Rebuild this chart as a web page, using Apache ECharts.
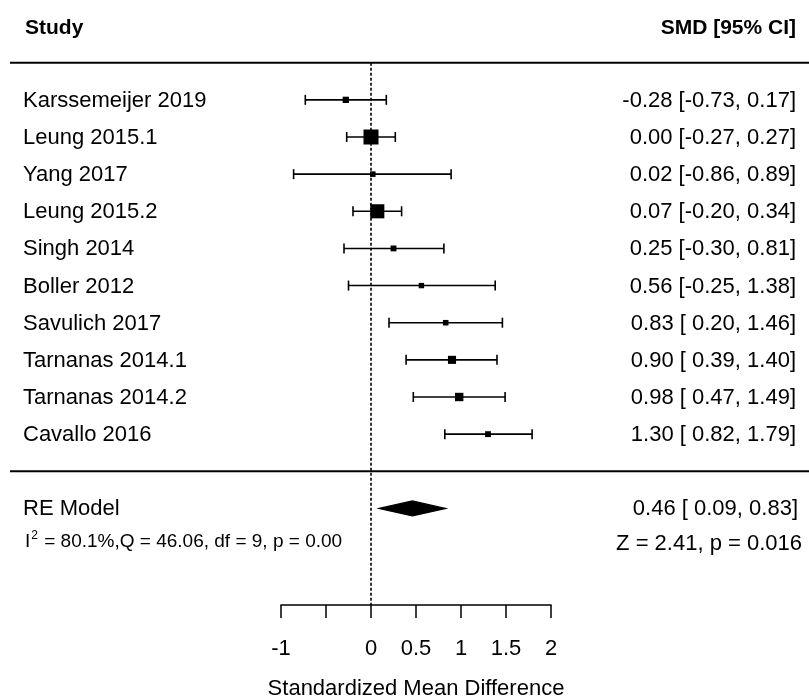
<!DOCTYPE html>
<html>
<head>
<meta charset="utf-8">
<script src="https://cdn.jsdelivr.net/npm/echarts@6/dist/echarts.min.js"></script>
<style>html,body{margin:0;padding:0;background:#fff}#c{width:809px;height:700px}</style>
</head>
<body>
<div id="c"></div>
<script>
// ---- data ----
const studies = ['Karssemeijer 2019', 'Leung 2015.1', 'Yang 2017', 'Leung 2015.2', 'Singh 2014',
  'Boller 2012', 'Savulich 2017', 'Tarnanas 2014.1', 'Tarnanas 2014.2', 'Cavallo 2016'];
const smd    = [-0.28, 0.00, 0.02, 0.07, 0.25, 0.56, 0.83, 0.90, 0.98, 1.30];
const ciLow  = [-0.73, -0.27, -0.86, -0.20, -0.30, -0.25, 0.20, 0.39, 0.47, 0.82];
const ciHigh = [0.17, 0.27, 0.89, 0.34, 0.81, 1.38, 1.46, 1.40, 1.49, 1.79];
// relative weights (% of the largest study)
const relWeight = [42, 100, 37, 94, 39, 36, 37, 54, 56, 39];
const reModel = { label: 'RE Model', est: 0.46, low: 0.09, high: 0.83 };
const hetero = { I2: '80.1%', Q: '46.06', df: '9', p: '0.00' };
const zTest = { z: '2.41', p: '0.016' };
const xTicks = [-1, -0.5, 0, 0.5, 1, 1.5, 2];
const hiddenTickLabels = [-0.5];
const headerLeft = 'Study';
const headerRight = 'SMD [95% CI]';
const axisTitle = 'Standardized Mean Difference';

// ---- layout / style ----
const FONT = 'Liberation Sans, Arial, Helvetica, sans-serif';
const FS = 22;
const LEFT_TEXT_X = 23;
const RIGHT_TEXT_X = 796;
const MAX_BOX = 15;
const ROW_HEADER = -1, ROW_RULE_TOP = 0, ROW_RULE_BOTTOM = 11, ROW_RE = 12, ROW_HET = 12.92;
const Y_MIN = -1.5, Y_MAX = 14.6;

function f2(v){ return v.toFixed(2); }
function pad5(s){ return s.length < 5 ? ' '.repeat(5 - s.length) + s : s; }
function ciString(e, l, h){ return f2(e) + ' [' + pad5(f2(l)) + ', ' + f2(h) + ']'; }

const chart = echarts.init(document.getElementById('c'), null, {renderer: 'canvas'});

// text items: [dummyX, row, text, side, bold, kind]
const textItems = [];
textItems.push([0, ROW_HEADER, headerLeft, 'left', true]);
textItems.push([0, ROW_HEADER, headerRight, 'right', true]);
studies.forEach((s, i) => {
  textItems.push([0, i + 1, s, 'left', false]);
  textItems.push([0, i + 1, ciString(smd[i], ciLow[i], ciHigh[i]), 'right', false]);
});
textItems.push([0, ROW_RE, reModel.label, 'left', false]);
textItems.push([0, ROW_RE, ciString(reModel.est, reModel.low, reModel.high), 'right', false, 'reRight']);
textItems.push([0, ROW_HET, 'het', 'left', false, 'het']);
textItems.push([0, ROW_HET, 'Z = ' + zTest.z + ', p = ' + zTest.p, 'right', false, 'z']);

function renderText(params, api) {
  const it = textItems[params.dataIndex];
  const y = api.coord([0, it[1]])[1];
  if (it[5] === 'het') {
    return {
      type: 'text',
      style: {
        x: LEFT_TEXT_X + 2, y: y - 2,
        text: '{n|I}{s|2}{n| = ' + hetero.I2 + ',Q = ' + hetero.Q + ', df = ' + hetero.df + ', p = ' + hetero.p + '}',
        rich: {
          n: {fontSize: 19, fontFamily: FONT, fill: '#000', verticalAlign: 'bottom'},
          s: {fontSize: 12, fontFamily: FONT, fill: '#000', verticalAlign: 'top', padding: [0, 1, 10, 1]}
        },
        align: 'left', verticalAlign: 'middle'
      }
    };
  }
  let x = it[3] === 'left' ? LEFT_TEXT_X : RIGHT_TEXT_X;
  let dy = 1;
  if (it[5] === 'reRight') x = RIGHT_TEXT_X + 2;
  if (it[5] === 'z') x = RIGHT_TEXT_X + 6;
  if (it[4]) { dy = 3; if (it[3] === 'left') x = LEFT_TEXT_X + 2; }
  return {
    type: 'text',
    style: {
      x: x, y: y + dy,
      text: it[2],
      fill: '#000',
      fontSize: it[4] ? 21 : FS,
      fontWeight: it[4] ? 'bold' : 'normal',
      fontFamily: FONT,
      align: it[3], verticalAlign: 'middle'
    }
  };
}

function renderStudy(params, api) {
  const row = api.value(3);
  const c = api.coord([api.value(0), row]);
  const lo = api.coord([api.value(1), row]);
  const hi = api.coord([api.value(2), row]);
  const sz = MAX_BOX * api.value(4) / 100;
  const ls = {stroke: '#000', lineWidth: 1.6};
  return {
    type: 'group',
    children: [
      {type: 'line', shape: {x1: lo[0], y1: c[1], x2: hi[0], y2: c[1]}, style: ls},
      {type: 'line', shape: {x1: lo[0], y1: c[1] - 5, x2: lo[0], y2: c[1] + 5}, style: ls},
      {type: 'line', shape: {x1: hi[0], y1: c[1] - 5, x2: hi[0], y2: c[1] + 5}, style: ls},
      {type: 'rect', shape: {x: c[0] - sz / 2, y: c[1] - sz / 2, width: sz, height: sz}, style: {fill: '#000'}}
    ]
  };
}

function renderDiamond(params, api) {
  const row = api.value(3);
  const c = api.coord([api.value(0), row]);
  const lo = api.coord([api.value(1), row]);
  const hi = api.coord([api.value(2), row]);
  const h = 7.5;
  return {
    type: 'polygon',
    shape: {points: [[lo[0], c[1]], [c[0], c[1] - h], [hi[0], c[1]], [c[0], c[1] + h]]},
    style: {fill: '#000', stroke: '#000', lineWidth: 1.2}
  };
}

function renderRule(params, api) {
  const y = api.coord([0, api.value(1)])[1];
  return {
    type: 'line',
    shape: {x1: 10, y1: y, x2: 809, y2: y},
    style: {stroke: '#000', lineWidth: 2}
  };
}

const option = {
  animation: false,
  backgroundColor: '#fff',
  grid: {left: 281, right: 258, top: 7, bottom: 95, containLabel: false, outerBoundsMode: 'none'},
  xAxis: {
    type: 'value', min: xTicks[0], max: xTicks[xTicks.length - 1], interval: 0.5,
    axisLine: {show: true, onZero: false, lineStyle: {color: '#000', width: 1.5}},
    axisTick: {show: true, length: 13, lineStyle: {color: '#000', width: 1.5}},
    axisLabel: {
      show: true, margin: 33, color: '#000', fontSize: FS, fontFamily: FONT,
      formatter: v => hiddenTickLabels.indexOf(v) >= 0 ? '' : String(v)
    },
    splitLine: {show: false},
    name: axisTitle, nameLocation: 'middle', nameGap: 73,
    nameTextStyle: {color: '#000', fontSize: FS, fontFamily: FONT}
  },
  yAxis: {type: 'value', inverse: true, min: Y_MIN, max: Y_MAX, show: false},
  series: [
    {
      type: 'line', data: [[0, ROW_RULE_TOP], [0, Y_MAX]], symbol: 'none', silent: true,
      lineStyle: {color: '#000', width: 1.6, type: [3, 2]}, z: 1
    },
    {
      type: 'custom', renderItem: renderRule, silent: true, z: 2,
      data: [[0, ROW_RULE_TOP], [0, ROW_RULE_BOTTOM]]
    },
    {
      type: 'custom', renderItem: renderStudy, z: 3,
      data: studies.map((s, i) => [smd[i], ciLow[i], ciHigh[i], i + 1, relWeight[i]]),
      encode: {x: [0, 1, 2], y: 3}
    },
    {
      type: 'custom', renderItem: renderDiamond, z: 3,
      data: [[reModel.est, reModel.low, reModel.high, ROW_RE]],
      encode: {x: [0, 1, 2], y: 3}
    },
    {
      type: 'custom', renderItem: renderText, silent: true, z: 4,
      data: textItems.map(t => [t[0], t[1]])
    }
  ]
};
chart.setOption(option);
</script>
</body>
</html>
